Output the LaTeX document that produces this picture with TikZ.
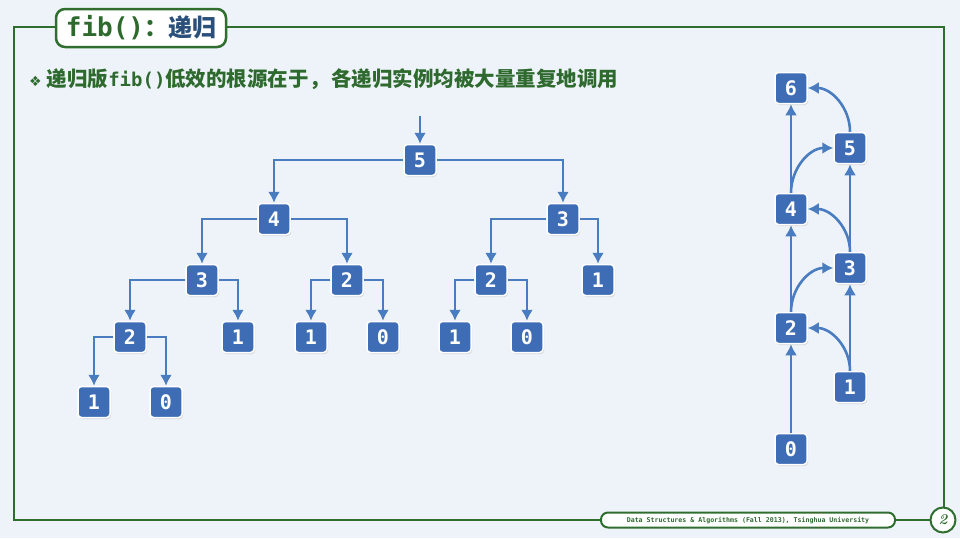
\documentclass[tikz,border=0pt]{standalone}
\usepackage{fontspec}
\usetikzlibrary{arrows.meta,shadows}
\newfontfamily\cjk{Noto Sans CJK SC}
\newfontfamily\monof{DejaVu Sans Mono}
\newfontfamily\symf{DejaVu Sans}
\definecolor{bgc}{HTML}{EEF3FA}
\definecolor{frameg}{HTML}{2F6E2F}
\definecolor{textg}{HTML}{2E6A2E}
\definecolor{titleb}{HTML}{2A4F7A}
\definecolor{nodeb}{HTML}{3E6DB5}
\definecolor{edgeb}{HTML}{4A7CC0}
\tikzset{
  num/.style={draw=white, line width=1.5pt, fill=nodeb, rounded corners=3.5pt,
    minimum width=32pt, minimum height=31pt, inner sep=0pt, text=white,
    font=\monof\bfseries\fontsize{20}{20}\selectfont,
    drop shadow={opacity=0.25, shadow xshift=1pt, shadow yshift=-1.5pt}},
  tedge/.style={draw=edgeb, line width=2.6pt, -{Latex[length=11pt,width=12pt]}},
}
\begin{document}
\begin{tikzpicture}[x=1pt,y=-1pt]
\useasboundingbox (0,0) rectangle (960,538);
\fill[bgc] (0,0) rectangle (960,538);
% frame
\draw[frameg, line width=2pt] (56,27) -- (14,27) -- (14,520) -- (601,520);
\draw[frameg, line width=2pt] (226,27) -- (944,27) -- (944,507);
\draw[frameg, line width=2pt] (895,520) -- (930,520);
\node[draw=frameg, line width=2.5pt, fill=white, rounded corners=9pt, minimum width=170pt, minimum height=38pt, inner sep=0pt] (title) at (141,28)
  {\monof\bfseries\fontsize{26}{26}\selectfont\color{textg}fib()\cjk\bfseries\fontsize{24}{24}\selectfont：\color{titleb}递归};
\node[draw=frameg, line width=2pt, fill=white, rounded corners=7pt, minimum width=294pt, minimum height=15pt, inner sep=0pt] (foot) at (748,520)
  {\monof\bfseries\fontsize{6.6}{7}\selectfont\color{textg}Data Structures \& Algorithms (Fall 2013), Tsinghua University};
\node[circle, draw=frameg, line width=2pt, fill=white, minimum size=25pt, inner sep=0pt] (pg) at (943,520)
  {\fontsize{15}{15}\selectfont\bfseries\itshape\color{frameg}2};
% headline
\node[anchor=west, inner sep=0pt, text=textg] (head) at (29,79)
  {{\symf\fontsize{14}{14}\selectfont ❖}\hspace{5pt}{\cjk\bfseries\fontsize{20.5}{21}\selectfont 递归版{\monof\bfseries\fontsize{19}{19}\selectfont fib()}低效的根源在于\hspace{1pt}，\hspace{1pt}各递归实例均被大量重复地调用}};
% recursion tree
\coordinate (top) at (420,116);
\node[num] (a5) at (420,160) {5};
\node[num] (a4) at (274,219) {4};
\node[num] (a3r) at (563,219) {3};
\node[num] (a3l) at (202,280) {3};
\node[num] (a2m) at (347,280) {2};
\node[num] (a2r) at (491,280) {2};
\node[num] (a1r) at (598,280) {1};
\node[num] (a2l) at (130,337) {2};
\node[num] (b1a) at (238,337) {1};
\node[num] (b1b) at (311,337) {1};
\node[num] (b0b) at (383,337) {0};
\node[num] (b1c) at (455,337) {1};
\node[num] (b0c) at (527,337) {0};
\node[num] (c1) at (94,402) {1};
\node[num] (c0) at (166,402) {0};
\draw[tedge] (top) -- (a5.north);
\draw[tedge] (a5.west) -| (a4.north);
\draw[tedge] (a5.east) -| (a3r.north);
\draw[tedge] (a4.west) -| (a3l.north);
\draw[tedge] (a4.east) -| (a2m.north);
\draw[tedge] (a3r.west) -| (a2r.north);
\draw[tedge] (a3r.east) -| (a1r.north);
\draw[tedge] (a3l.west) -| (a2l.north);
\draw[tedge] (a3l.east) -| (b1a.north);
\draw[tedge] (a2m.west) -| (b1b.north);
\draw[tedge] (a2m.east) -| (b0b.north);
\draw[tedge] (a2r.west) -| (b1c.north);
\draw[tedge] (a2r.east) -| (b0c.north);
\draw[tedge] (a2l.west) -| (c1.north);
\draw[tedge] (a2l.east) -| (c0.north);
% iterative chain
\node[num] (f6) at (791,88) {6};
\node[num] (f5) at (850,148) {5};
\node[num] (f4) at (791,209) {4};
\node[num] (f3) at (850,268) {3};
\node[num] (f2) at (791,328) {2};
\node[num] (f1) at (850,387) {1};
\node[num] (f0) at (791,449) {0};
\draw[tedge] (f0.north) -- (f2.south);
\draw[tedge] (f1.north) -- (f3.south);
\draw[tedge] (f2.north) -- (f4.south);
\draw[tedge] (f3.north) -- (f5.south);
\draw[tedge] (f4.north) -- (f6.south);
\draw[tedge] (f1.north) to[out=90, in=0] (f2.east);
\draw[tedge] (f2.north) to[out=90, in=180] (f3.west);
\draw[tedge] (f3.north) to[out=90, in=0] (f4.east);
\draw[tedge] (f4.north) to[out=90, in=180] (f5.west);
\draw[tedge] (f5.north) to[out=90, in=0] (f6.east);
\end{tikzpicture}
\end{document}
